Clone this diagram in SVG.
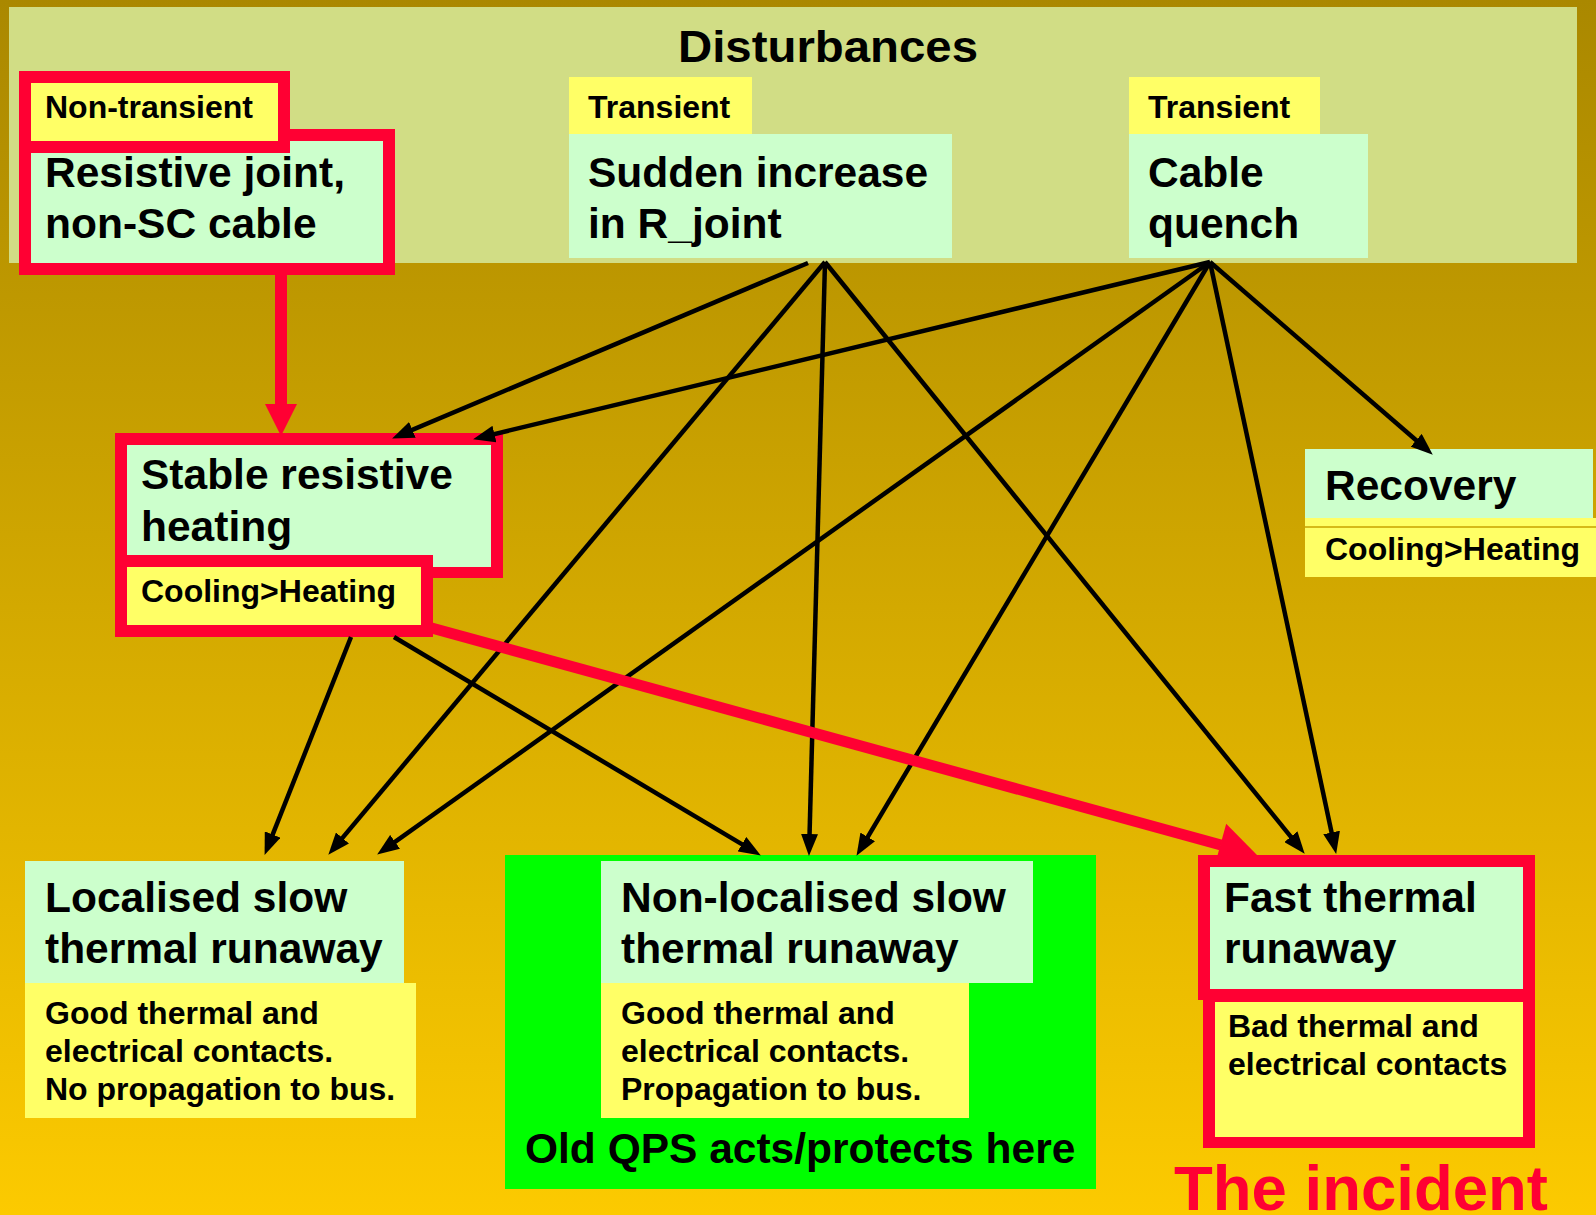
<svg xmlns="http://www.w3.org/2000/svg" width="1596" height="1215" viewBox="0 0 1596 1215">
<defs>
<linearGradient id="bg" x1="0" y1="0" x2="0" y2="1">
<stop offset="0" stop-color="#AA8800"/>
<stop offset="1" stop-color="#FCCA00"/>
</linearGradient>
<marker id="ah" markerUnits="userSpaceOnUse" markerWidth="22" markerHeight="17" refX="13" refY="8.5" orient="auto">
<path d="M0,0 L22,8.5 L0,17 z" fill="#000"/>
</marker>
</defs>
<style>
.t{font-family:"Liberation Sans",Arial,sans-serif;font-weight:bold;fill:#000}
.big{font-size:42.5px}
.sm{font-size:32px}
.red{fill:#FF0033}
.grn{fill:#CCFFCC}
.yel{fill:#FFFF66}
.conn line{stroke:#000;stroke-width:4.5;marker-end:url(#ah)}
</style>
<rect x="0" y="0" width="1596" height="1215" fill="url(#bg)"/>

<g id="disturbances">
<rect x="9" y="7" width="1568" height="256" fill="#D1DD85"/>
<text class="t" x="678" y="62" font-size="44" textLength="300" lengthAdjust="spacingAndGlyphs">Disturbances</text>
</g>

<g id="resistive-joint">
<rect class="red" x="19" y="129" width="376" height="146"/>
<rect class="grn" x="31" y="141" width="352" height="122"/>
<rect class="red" x="19" y="71" width="271" height="82"/>
<rect class="yel" x="31" y="83" width="247" height="58"/>
<text class="t sm" x="45" y="118">Non-transient</text>
<text class="t big" x="45" y="187">Resistive joint,</text>
<text class="t big" x="45" y="238">non-SC cable</text>
</g>

<g id="sudden-increase">
<rect class="grn" x="569" y="134" width="383" height="124"/>
<rect class="yel" x="569" y="77" width="183" height="57"/>
<text class="t sm" x="588" y="118">Transient</text>
<text class="t big" x="588" y="187">Sudden increase</text>
<text class="t big" x="588" y="238">in R_joint</text>
</g>

<g id="cable-quench">
<rect class="grn" x="1129" y="134" width="239" height="124"/>
<rect class="yel" x="1129" y="77" width="191" height="57"/>
<text class="t sm" x="1148" y="118">Transient</text>
<text class="t big" x="1148" y="187">Cable</text>
<text class="t big" x="1148" y="238">quench</text>
</g>

<g id="stable-heating">
<rect class="red" x="115" y="433" width="388" height="145"/>
<rect class="grn" x="127" y="445" width="364" height="122"/>
<rect class="red" x="115" y="555" width="318" height="82"/>
<rect class="yel" x="127" y="567" width="294" height="58"/>
<text class="t big" x="141" y="489">Stable resistive</text>
<text class="t big" x="141" y="541">heating</text>
<text class="t sm" x="141" y="602">Cooling&gt;Heating</text>
</g>

<g id="recovery">
<rect class="grn" x="1305" y="449" width="288" height="70"/>
<rect class="yel" x="1305" y="518" width="291" height="59"/>
<line x1="1305" y1="527" x2="1596" y2="527" stroke="#C8A200" stroke-width="1.5"/>
<text class="t big" x="1325" y="500">Recovery</text>
<text class="t sm" x="1325" y="560">Cooling&gt;Heating</text>
</g>

<g id="localised">
<rect class="grn" x="25" y="861" width="379" height="122"/>
<rect class="yel" x="25" y="983" width="391" height="135"/>
<text class="t big" x="45" y="912">Localised slow</text>
<text class="t big" x="45" y="963">thermal runaway</text>
<text class="t sm" x="45" y="1024">Good thermal and</text>
<text class="t sm" x="45" y="1062">electrical contacts.</text>
<text class="t sm" x="45" y="1100">No propagation to bus.</text>
</g>

<g id="non-localised">
<rect x="505" y="855" width="591" height="334" fill="#00FF00"/>
<rect class="grn" x="601" y="861" width="432" height="122"/>
<rect class="yel" x="601" y="983" width="368" height="135"/>
<text class="t big" x="621" y="912">Non-localised slow</text>
<text class="t big" x="621" y="963">thermal runaway</text>
<text class="t sm" x="621" y="1024">Good thermal and</text>
<text class="t sm" x="621" y="1062">electrical contacts.</text>
<text class="t sm" x="621" y="1100">Propagation to bus.</text>
<text class="t big" x="525" y="1163">Old QPS acts/protects here</text>
</g>

<g id="fast-runaway">
<rect class="red" x="1203" y="989" width="332" height="159"/>
<rect class="yel" x="1215" y="1002" width="308" height="135"/>
<rect class="red" x="1198" y="855" width="337" height="145"/>
<rect class="grn" x="1210" y="867" width="313" height="122"/>
<text class="t big" x="1224" y="912">Fast thermal</text>
<text class="t big" x="1224" y="963">runaway</text>
<text class="t sm" x="1228" y="1037">Bad thermal and</text>
<text class="t sm" x="1228" y="1075">electrical contacts</text>
</g>

<g id="incident-label">
<text class="t" x="1174" y="1210" font-size="63.5" style="fill:#FF0033">The incident</text>
</g>

<g id="connectors" class="conn">
<line x1="808" y1="263" x2="400.4" y2="434.9"/>
<line x1="1210" y1="262" x2="481.8" y2="437.1"/>
<line x1="825" y1="262" x2="334.1" y2="847.9"/>
<line x1="1210" y1="262" x2="384.5" y2="849.4"/>
<line x1="351" y1="637" x2="267.9" y2="846.6"/>
<line x1="825" y1="262" x2="809.2" y2="847"/>
<line x1="1210" y1="262" x2="861.1" y2="848.1"/>
<line x1="394" y1="637" x2="753.1" y2="850.9"/>
<line x1="825" y1="262" x2="1299" y2="846.8"/>
<line x1="1210" y1="262" x2="1334.3" y2="845.2"/>
<line x1="1210" y1="262" x2="1426" y2="448.8"/>
<g id="red-connectors">
<line x1="281" y1="275" x2="281" y2="406" style="stroke:#FF0033;stroke-width:12;marker-end:none"/>
<polygon points="265,404 297,404 281,436" fill="#FF0033"/>
<line x1="428" y1="627" x2="1221" y2="845" style="stroke:#FF0033;stroke-width:11;marker-end:none"/>
<polygon points="1214.6,866.1 1226.2,823.7 1257,855" fill="#FF0033"/>
</g>
</g>
</svg>
